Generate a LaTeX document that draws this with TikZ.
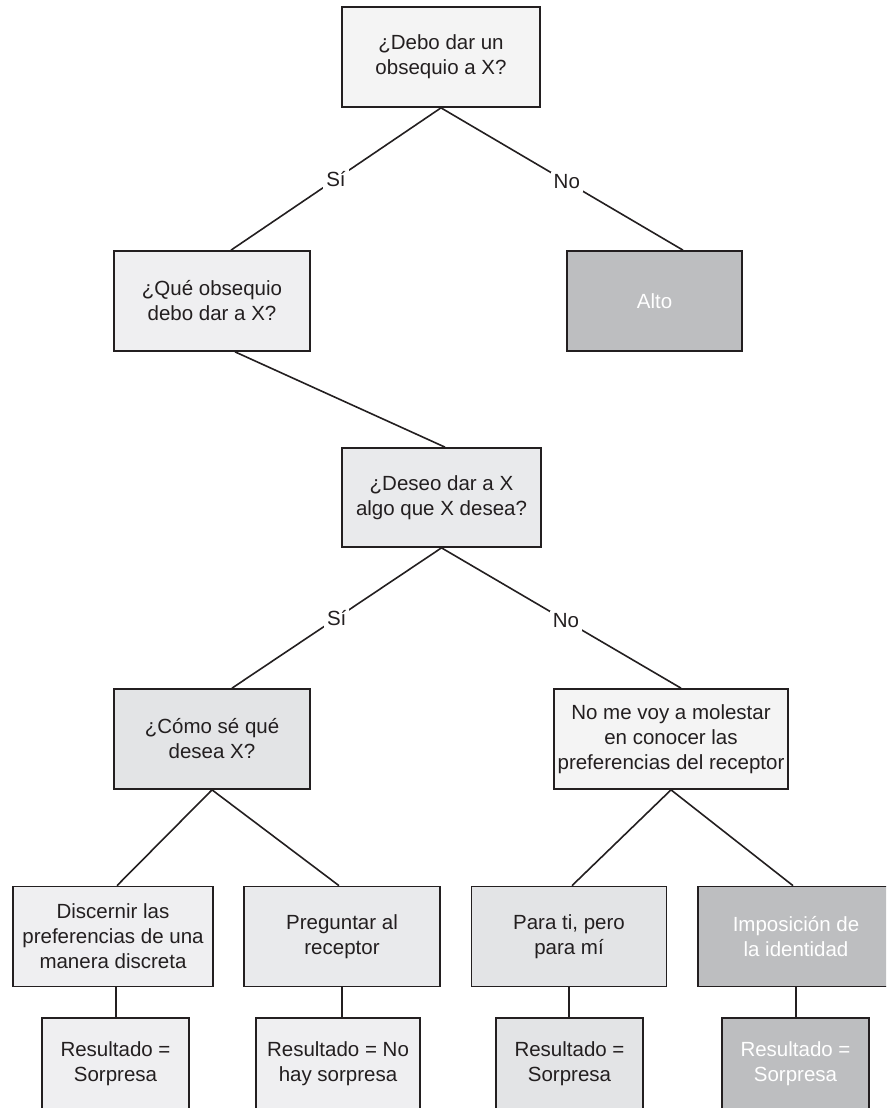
\documentclass[tikz,border=0pt]{standalone}
\usepackage{fontspec}
\setmainfont{Liberation Sans}
\definecolor{ink}{HTML}{231F20}
\definecolor{fa}{HTML}{F4F4F4}
\definecolor{fb}{HTML}{EFEFF1}
\definecolor{fc}{HTML}{E9EAEC}
\definecolor{fd}{HTML}{E3E4E6}
\definecolor{fdark}{HTML}{BDBEC0}
\tikzset{
  box/.style={draw=ink, line width=1.7pt, align=center, text=ink, inner sep=0pt,
    font=\fontsize{20.5}{25}\selectfont},
  darkbox/.style={box, fill=fdark, text=white},
  conn/.style={draw=ink, line width=1.6pt},
  lbl/.style={fill=white, inner sep=3pt, text=ink, font=\fontsize{20.5}{25}\selectfont}
}
\begin{document}
\begin{tikzpicture}[x=1pt,y=-1pt]
\useasboundingbox (0,0) rectangle (886,1108);
\clip (0,0) rectangle (886,1108);
% row 1
\node[box, fill=fa, minimum width=198pt, minimum height=100pt] (q1) at (441,57) {¿Debo dar un\\obsequio a X?};
% row 2
\node[box, fill=fb, minimum width=196pt, minimum height=100pt] (q2) at (212,301) {¿Qué obsequio\\debo dar a X?};
\node[darkbox, minimum width=175pt, minimum height=100pt] (alto) at (654.5,301) {Alto};
% row 3
\node[box, fill=fc, minimum width=199pt, minimum height=99pt] (deseo) at (441.5,497.5) {¿Deseo dar a X\\algo que X desea?};
% row 4
\node[box, fill=fd, minimum width=196pt, minimum height=100pt] (como) at (212,739) {¿Cómo sé qué\\desea X?};
\node[box, fill=fa, minimum width=234pt, minimum height=100pt] (nome) at (671,739) {No me voy a molestar\\en conocer las\\preferencias del receptor};
% row 5
\node[box, fill=fb, minimum width=200pt, minimum height=100pt] (disc) at (113,936.5) {Discernir las\\preferencias de una\\manera discreta};
\node[box, fill=fc, minimum width=196pt, minimum height=100pt] (preg) at (342,936.5) {Preguntar al\\receptor};
\node[box, fill=fd, minimum width=195pt, minimum height=100pt] (parati) at (569,936.5) {Para ti, pero\\para mí};
\node[darkbox, minimum width=196pt, minimum height=100pt] (impo) at (796,936.5) {Imposición de\\la identidad};
% row 6
\node[box, fill=fb, minimum width=147pt, minimum height=92pt] (res1) at (115.5,1064) {Resultado =\\Sorpresa};
\node[box, fill=fb, minimum width=164pt, minimum height=92pt] (res2) at (338,1064) {Resultado = No\\hay sorpresa};
\node[box, fill=fd, minimum width=147pt, minimum height=92pt] (res3) at (569.5,1064) {Resultado =\\Sorpresa};
\node[darkbox, minimum width=147pt, minimum height=92pt] (res4) at (795.5,1064) {Resultado =\\Sorpresa};
% connectors
\draw[conn] (q1.south) -- node[lbl] {Sí} ([xshift=19pt]q2.north);
\draw[conn] (q1.south) -- node[lbl, pos=0.52] {No} ([xshift=28.5pt]alto.north);
\draw[conn] ([xshift=23pt]q2.south) -- ([xshift=3.5pt]deseo.north);
\draw[conn] (deseo.south) -- node[lbl] {Sí} ([xshift=20pt]como.north);
\draw[conn] (deseo.south) -- node[lbl, pos=0.52] {No} ([xshift=10pt]nome.north);
\draw[conn] (como.south) -- ([xshift=4pt]disc.north);
\draw[conn] (como.south) -- ([xshift=-3pt]preg.north);
\draw[conn] (nome.south) -- ([xshift=3pt]parati.north);
\draw[conn] (nome.south) -- ([xshift=-3pt]impo.north);
\draw[conn] ([xshift=3pt]disc.south) -- ([xshift=3pt]disc.south |- res1.north);
\draw[conn] (preg.south) -- (preg.south |- res2.north);
\draw[conn] (parati.south) -- (parati.south |- res3.north);
\draw[conn] (impo.south) -- (impo.south |- res4.north);
\end{tikzpicture}
\end{document}
